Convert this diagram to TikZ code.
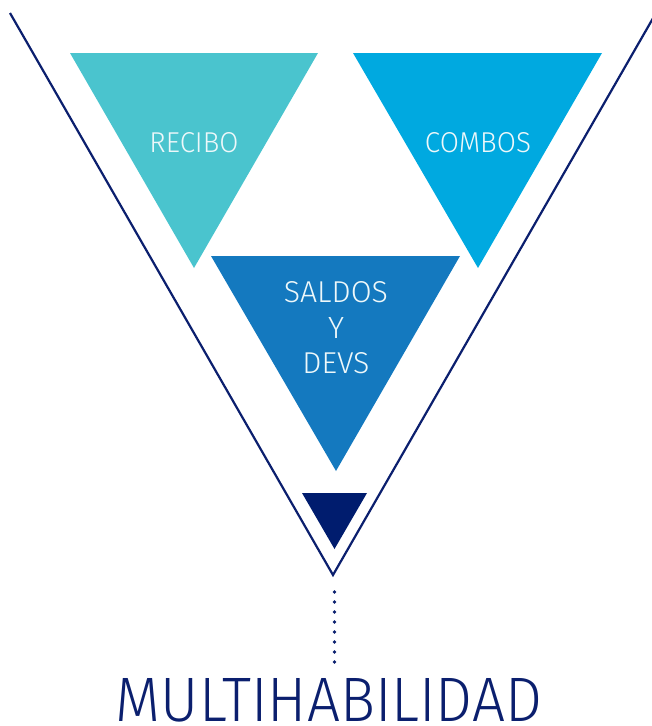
\documentclass[tikz,border=0pt]{standalone}
\usepackage{fontspec}
\setmainfont{Fira Sans Light}
\usepackage{graphicx}
\definecolor{navy}{HTML}{0B1F6E}
\definecolor{tealc}{HTML}{4AC4CE}
\definecolor{skyc}{HTML}{00A9E0}
\definecolor{bluec}{HTML}{1479BF}
\definecolor{darkc}{HTML}{001C6E}
\definecolor{lightt}{HTML}{EEF8FA}
\newcommand\fitword[3]{\resizebox{#1pt}{#2pt}{#3}}
\begin{document}
\begin{tikzpicture}[x=1pt,y=-1pt,
  lab/.style={inner sep=0pt,text=lightt,anchor=center}]
\useasboundingbox (0,0) rectangle (652,726);
% big V outline
\coordinate (vl) at (10,13);
\coordinate (vt) at (333,575);
\coordinate (vr) at (656,13);
\draw[navy,line width=2.2pt,line join=miter] (vl) -- (vt) -- (vr);
% triangles
\fill[tealc] (70,53) -- (318,53) -- (194,268) -- cycle;
\fill[skyc] (353,53) -- (602,53) -- (478,268) -- cycle;
\fill[bluec] (211,256) -- (460,256) -- (336,471) -- cycle;
\fill[darkc] (302,493) -- (367,493) -- (334.5,549) -- cycle;
% labels
\node[lab] (recibo) at (194,143) {\fitword{89}{20}{RECIBO}};
\node[lab] (combos) at (478,143) {\fitword{106}{20}{COMBOS}};
\node[lab] (saldos) at (336,292.5) {\fitword{104}{21}{SALDOS}};
\node[lab] (y) at (336,328) {\fitword{16}{21}{Y}};
\node[lab] (devs) at (336,363) {\fitword{67}{21}{DEVS}};
% dotted line
\coordinate (d1) at (334.5,592);
\coordinate (d2) at (334.5,663);
\draw[navy,line width=3.6pt,line cap=round,dash pattern=on 0pt off 10pt] (d1) -- (d2);
% bottom text
\node[inner sep=0pt,text=navy] (multi) at (329,700) {\fitword{426}{43}{MULTIHABILIDAD}};
\end{tikzpicture}
\end{document}
